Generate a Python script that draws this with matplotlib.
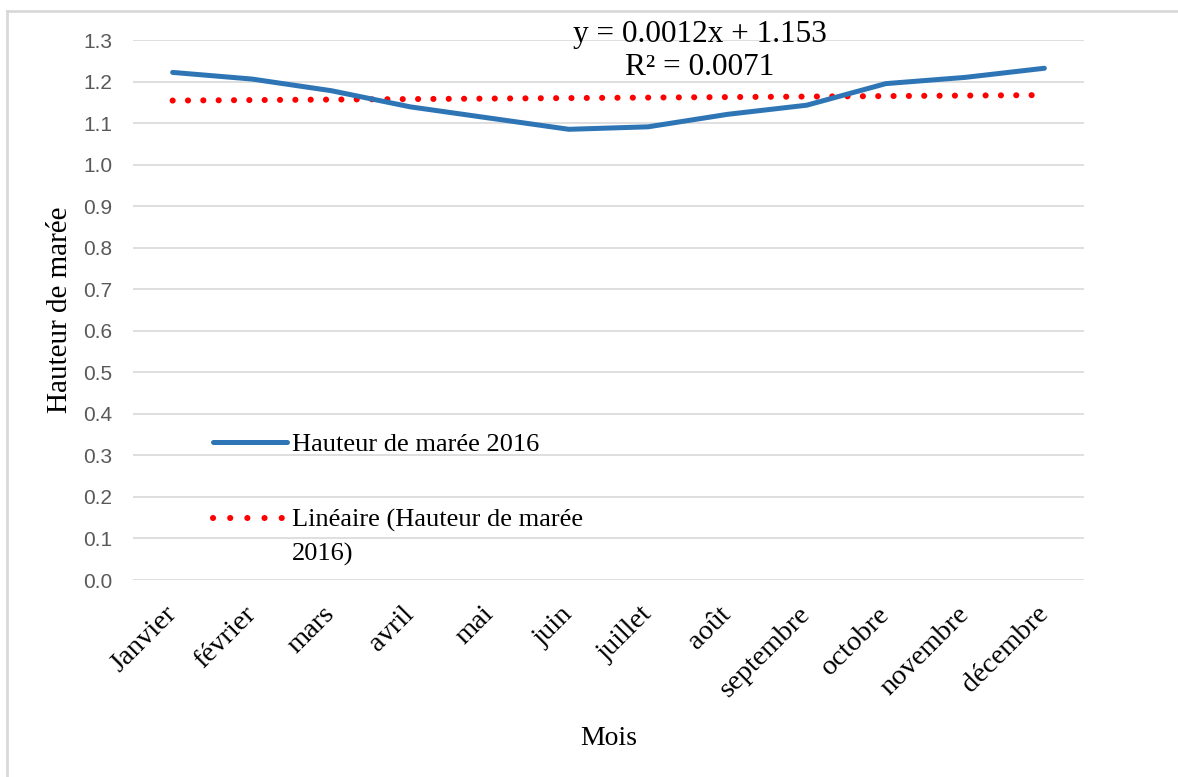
import matplotlib.pyplot as plt
from matplotlib.lines import Line2D
from matplotlib.transforms import ScaledTranslation

mois = ['Janvier', 'février', 'mars', 'avril', 'mai', 'juin', 'juillet',
        'août', 'septembre', 'octobre', 'novembre', 'décembre']
hauteur_2016 = [1.222, 1.206, 1.178, 1.139, 1.112, 1.085, 1.091,
                1.121, 1.143, 1.195, 1.210, 1.232]

# tendance linéaire (Excel) : y = a*x + b, x = 1..12
pente = 0.0012
origine = 1.153
r2 = 0.0071

serif = 'Liberation Serif'
bleu = '#2E75B6'
rouge = '#FF0000'
pointille = (0, (0.01, 2.5))

fig = plt.figure(figsize=(11.78, 7.77), dpi=100)
ax = fig.add_axes([133 / 1178, 1 - 580 / 777, 951 / 1178, 540 / 777])

x = list(range(len(mois)))
tendance = [pente * (i + 1) + origine for i in x]

ax.plot(x, hauteur_2016, color=bleu, lw=3.6, solid_capstyle='round',
        solid_joinstyle='round', zorder=3)
ax.plot(x, tendance, color=rouge, lw=4.4, linestyle=pointille,
        dash_capstyle='round', zorder=2)

ax.set_xlim(-0.5, len(mois) - 0.5)
ax.set_ylim(0, 1.3)
ax.set_yticks([i / 10 for i in range(14)])
ax.set_yticklabels([f'{i / 10:.1f}' for i in range(14)],
                   fontsize=15, color='#595959', family='Liberation Sans')
ax.set_xticks(x)
ax.set_xticklabels(mois, rotation=45, ha='right', va='center',
                   rotation_mode='anchor', fontsize=20.5, family=serif)
decalage = ScaledTranslation(4 / 100, 0, fig.dpi_scale_trans)
for lab in ax.get_xticklabels():
    lab.set_transform(lab.get_transform() + decalage)
ax.tick_params(length=0)
ax.tick_params(axis='y', pad=15)
ax.tick_params(axis='x', pad=22)
ax.grid(axis='y', color='#D9D9D9', lw=1.2)
ax.set_axisbelow(True)
for s in ax.spines.values():
    s.set_visible(False)

ax.set_xlabel('Mois', fontsize=20, family=serif)
ax.xaxis.set_label_coords(0.5, (580 - 726) / 540)
ax.set_ylabel('Hauteur de marée', fontsize=21, family=serif)
ax.yaxis.set_label_coords((73 - 133) / 951, 0.5)

ax.text((700 - 133) / 951, (580 - 20) / 540, f'y = {pente}x + {origine}\nR² = {r2}',
        transform=ax.transAxes, ha='center', va='top', fontsize=22.5,
        family=serif, linespacing=1.2)

# légende en deux blocs : la poignée reste sur la première ligne du libellé
poignee_serie = Line2D([], [], color=bleu, lw=3.6, solid_capstyle='round')
poignee_tend = Line2D([], [], color=rouge, lw=4.4, linestyle=(0, (0.01, 2.8)),
                      dash_capstyle='round')
vide = Line2D([], [], color='none')
opts = dict(frameon=False, prop={'family': serif, 'size': 19}, handlelength=2.8,
            handletextpad=0.2, borderpad=0, borderaxespad=0, loc='center left')

leg1 = ax.legend([poignee_serie], ['Hauteur de marée 2016'],
                 bbox_to_anchor=((213 - 133) / 951, (580 - 444) / 540), **opts)
ax.add_artist(leg1)
ax.legend([poignee_tend, vide], ['Linéaire (Hauteur de marée', '2016)'],
          bbox_to_anchor=((213 - 133) / 951, (580 - 537) / 540),
          labelspacing=0.35, **opts)

# cadre gris autour du graphique
fig.add_artist(Line2D([7 / 1178, 7 / 1178], [0, 1 - 11 / 777], color='#D9D9D9', lw=2))
fig.add_artist(Line2D([7 / 1178, 1], [1 - 11 / 777, 1 - 11 / 777], color='#D9D9D9', lw=2))

fig.savefig('out.png', dpi=100)
